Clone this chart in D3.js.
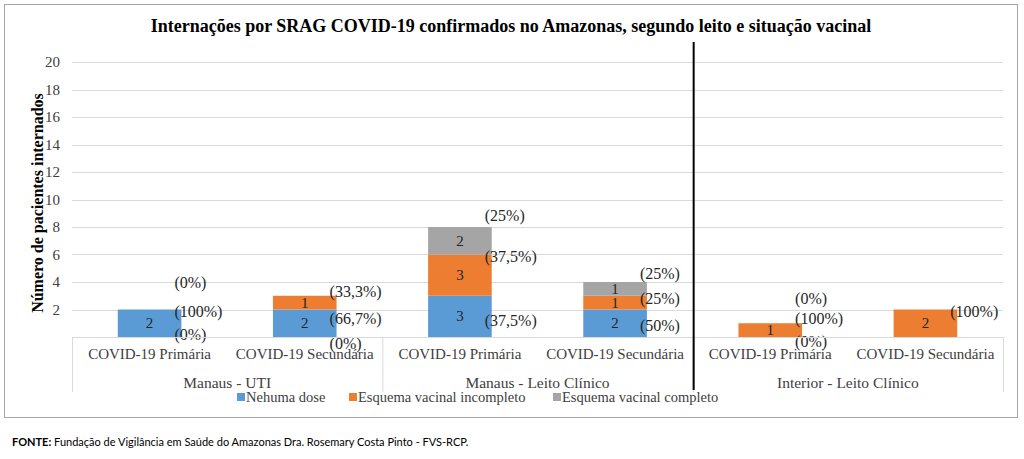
<!DOCTYPE html>
<html>
<head>
<meta charset="utf-8">
<script src="https://cdn.jsdelivr.net/npm/d3@7"></script>
<style>
  html, body { margin: 0; padding: 0; background: #fff; }
  svg { display: block; }
  .serif { font-family: "Liberation Serif", "Times New Roman", serif; }
  .foot { font-family: Lato, "Open Sans", sans-serif; }
</style>
</head>
<body>
<svg id="chart" width="1024" height="459"></svg>
<script>
const categories = ["COVID-19 Primária", "COVID-19 Secundária", "COVID-19 Primária", "COVID-19 Secundária", "COVID-19 Primária", "COVID-19 Secundária"];
const groups = ["Manaus - UTI", "Manaus - Leito Clínico", "Interior - Leito Clínico"];
const seriesNames = ["Nehuma dose", "Esquema vacinal incompleto", "Esquema vacinal completo"];
const nenhumaDose = [2, 2, 3, 2, 0, 0];
const incompleto = [0, 1, 3, 1, 1, 2];
const completo = [0, 0, 2, 1, 0, 0];
const nenhumaPct = ["(100%)", "(66,7%)", "(37,5%)", "(50%)", "(0%)", null];
const incompletoPct = ["(0%)", "(33,3%)", "(37,5%)", "(25%)", "(100%)", "(100%)"];
const completoPct = ["(0%)", "(0%)", "(25%)", "(25%)", "(0%)", null];
// level (in axis units) where each percentage label sits
const nenhumaPctAt = [1.82, 1.38, 1.23, 0.87, -0.36, null];
const incompletoPctAt = [0.15, 3.34, 5.88, 2.83, 1.38, 1.89];
const completoPctAt = [3.93, -0.44, 8.85, 4.64, 2.83, null];
const yTicks = [2, 4, 6, 8, 10, 12, 14, 16, 18, 20];
const colors = ["#5b9bd5", "#ed7d31", "#a5a5a5"];

const svg = d3.select("#chart");

// outer border
svg.append("rect").attr("x", 4.5).attr("y", 4.5).attr("width", 1013).attr("height", 413)
  .attr("fill", "#fff").attr("stroke", "#a6a6a6").attr("stroke-width", 1);

const plotL = 72, plotR = 1003, plotB = 337, plotT = 62;
const y = d3.scaleLinear().domain([0, 20]).range([plotB, plotT]);
const x = d3.scaleBand().domain(d3.range(categories.length)).range([plotL, plotR])
  .paddingInner(0.59).paddingOuter(0.295);
const step = x.step();

// gridlines
svg.append("g").selectAll("line").data(yTicks).join("line")
  .attr("x1", plotL).attr("x2", plotR)
  .attr("y1", d => Math.round(y(d)) + 0.5).attr("y2", d => Math.round(y(d)) + 0.5)
  .attr("stroke", "#d9d9d9").attr("stroke-width", 1);

// y axis labels
const yAxis = d3.axisLeft(y).tickValues(yTicks).tickSize(0).tickPadding(12);
const yg = svg.append("g").attr("transform", `translate(${plotL},0)`).call(yAxis);
yg.attr("font-family", null).attr("font-size", null);
yg.select(".domain").remove();
yg.selectAll("text").attr("class", "serif").style("font-size", "15px").attr("fill", "#404040");

// y axis title
svg.append("text").attr("class", "serif").attr("transform", `translate(37,203) rotate(-90)`)
  .attr("text-anchor", "middle").attr("dominant-baseline", "central")
  .style("font-size", "16px").style("font-weight", "bold").attr("fill", "#000")
  .text("Número de pacientes internados");

// title
svg.append("text").attr("class", "serif").attr("x", 511).attr("y", 26).attr("text-anchor", "middle")
  .attr("dominant-baseline", "central")
  .style("font-size", "18px").style("font-weight", "bold").attr("fill", "#000")
  .text("Internações por SRAG COVID-19 confirmados no Amazonas, segundo leito e situação vacinal");

// stacked data
const rows = categories.map((c, i) => ({ i, v0: nenhumaDose[i], v1: incompleto[i], v2: completo[i] }));
const stack = d3.stack().keys(["v0", "v1", "v2"])(rows);

const segG = svg.append("g");
stack.forEach((layer, k) => {
  segG.selectAll(null).data(layer.filter(d => d[1] > d[0])).join("rect")
    .attr("x", d => x(d.data.i)).attr("width", x.bandwidth())
    .attr("y", d => y(d[1])).attr("height", d => y(d[0]) - y(d[1]))
    .attr("fill", colors[k]);
});
// value labels
stack.forEach((layer, k) => {
  segG.selectAll(null).data(layer.filter(d => d[1] > d[0])).join("text")
    .attr("class", "serif")
    .attr("x", d => x(d.data.i) + x.bandwidth() / 2)
    .attr("y", d => (y(d[0]) + y(d[1])) / 2)
    .attr("text-anchor", "middle").attr("dominant-baseline", "central")
    .style("font-size", "15px").attr("fill", "#262626")
    .text(d => d[1] - d[0]);
});

// percentage labels
const pctSets = [[nenhumaPct, nenhumaPctAt], [incompletoPct, incompletoPctAt], [completoPct, completoPctAt]];
const pctG = svg.append("g");
pctSets.forEach(([txt, at]) => {
  const data = d3.range(categories.length).filter(i => txt[i] != null).map(i => ({ i, t: txt[i], v: at[i] }));
  pctG.selectAll(null).data(data).join("text")
    .attr("class", "serif")
    .attr("x", d => x(d.i) + x.bandwidth() - 7)
    .attr("y", d => y(d.v))
    .attr("dominant-baseline", "central")
    .style("font-size", "16px").attr("fill", "#262626")
    .text(d => d.t);
});

// category axis (table style)
const axG = svg.append("g");
axG.append("line").attr("x1", plotL).attr("x2", plotR).attr("y1", plotB + 0.5).attr("y2", plotB + 0.5)
  .attr("stroke", "#d9d9d9");
axG.selectAll("line.sep").data(d3.range(groups.length + 1)).join("line").attr("class", "sep")
  .attr("x1", g => plotL + g * 2 * step + 0.5).attr("x2", g => plotL + g * 2 * step + 0.5)
  .attr("y1", plotB).attr("y2", 392).attr("stroke", "#d9d9d9");
axG.selectAll("text.cat").data(categories).join("text").attr("class", "cat serif")
  .attr("x", (d, i) => x(i) + x.bandwidth() / 2).attr("y", 354)
  .attr("text-anchor", "middle").attr("dominant-baseline", "central")
  .style("font-size", "15px").attr("fill", "#404040")
  .text(d => d);
axG.selectAll("text.grp").data(groups).join("text").attr("class", "grp serif")
  .attr("x", (d, g) => plotL + (g * 2 + 1) * step).attr("y", 382)
  .attr("text-anchor", "middle").attr("dominant-baseline", "central")
  .style("font-size", "15.5px").attr("fill", "#404040")
  .text(d => d);

// black divider line
svg.append("line").attr("x1", plotL + 4 * step + 1).attr("x2", plotL + 4 * step + 1)
  .attr("y1", 42).attr("y2", 390).attr("stroke", "#000").attr("stroke-width", 2);

// legend
const legendX = [237, 349, 553];
const lg = svg.append("g");
seriesNames.forEach((n, k) => {
  lg.append("rect").attr("x", legendX[k]).attr("y", 393).attr("width", 8).attr("height", 8).attr("fill", colors[k]);
  lg.append("text").attr("class", "serif").attr("x", legendX[k] + 9).attr("y", 397).attr("dominant-baseline", "central")
    .style("font-size", "14.5px").attr("fill", "#404040").text(n);
});

// footer
const ft = svg.append("text").attr("class", "foot").attr("x", 12).attr("y", 441).attr("dominant-baseline", "central")
  .style("font-size", "11px").attr("fill", "#000");
ft.append("tspan").style("font-weight", "bold").text("FONTE:");
ft.append("tspan").text(" Fundação de Vigilância em Saúde do Amazonas Dra. Rosemary Costa Pinto - FVS-RCP.");
</script>
</body>
</html>
